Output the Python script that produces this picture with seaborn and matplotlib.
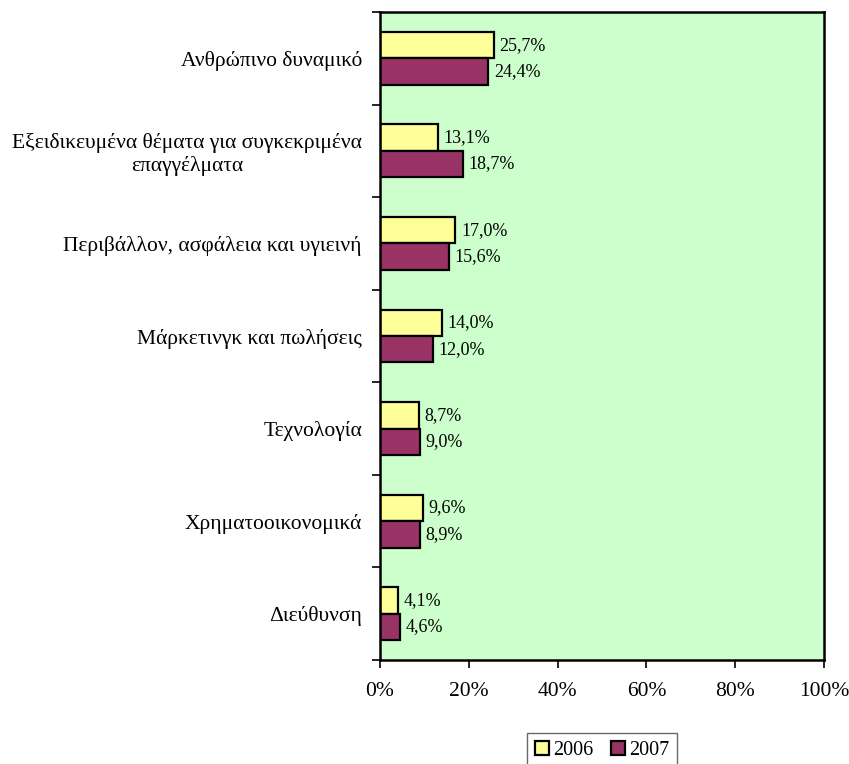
import numpy as np
import pandas as pd
import matplotlib
matplotlib.use("Agg")
import matplotlib.pyplot as plt
import seaborn as sns
from matplotlib.ticker import FixedLocator, PercentFormatter

# =============================================================================
# DATA
# =============================================================================

categories = [
    "Ανθρώπινο δυναμικό",
    "Εξειδικευμένα θέματα για συγκεκριμένα\nεπαγγέλματα",
    "Περιβάλλον, ασφάλεια και υγιεινή",
    "Μάρκετινγκ και πωλήσεις",
    "Τεχνολογία",
    "Χρηματοοικονομικά",
    "Διεύθυνση",
]

values_2006 = [25.7, 13.1, 17.0, 14.0, 8.7, 9.6, 4.1]
values_2007 = [24.4, 18.7, 15.6, 12.0, 9.0, 8.9, 4.6]

years = ["2006", "2007"]
x_ticks = [0, 20, 40, 60, 80, 100]

# =============================================================================
# STYLE
# =============================================================================

sns.set_style("white", rc={
    "text.color": "black",
    "xtick.color": "black",
    "ytick.color": "black",
    "axes.labelcolor": "black",
})
plt.rcParams["font.family"] = ["Liberation Serif", "DejaVu Serif"]
TICK_FS = 15.5
LABEL_FS = 13
COLORS = ["#FFFF99", "#993366"]

df = pd.DataFrame({
    "category": categories * 2,
    "value": values_2006 + values_2007,
    "year": [years[0]] * len(categories) + [years[1]] * len(categories),
})

fig = plt.figure(figsize=(8.49, 7.64), dpi=100)
ax = fig.add_axes([380 / 849, 1 - 660 / 764, 444 / 849, 648 / 764])
ax.set_facecolor("#CCFFCC")

sns.barplot(
    data=df,
    y="category",
    x="value",
    hue="year",
    order=categories,
    hue_order=years,
    palette=COLORS,
    saturation=1,
    orient="h",
    width=0.57,
    edgecolor="black",
    linewidth=1.6,
    ax=ax,
)

# data labels
for container in ax.containers:
    labels = [f"{v:.1f}%".replace(".", ",") for v in container.datavalues]
    ax.bar_label(container, labels=labels, padding=4, fontsize=LABEL_FS,
                 color="black")

ax.set_xlim(0, 100)
ax.set_ylim(len(categories) - 0.5, -0.5)
ax.xaxis.set_major_locator(FixedLocator(x_ticks))
ax.xaxis.set_major_formatter(PercentFormatter(decimals=0))

ax.yaxis.set_minor_locator(FixedLocator(np.arange(-0.5, len(categories), 1.0)))
ax.tick_params(axis="y", which="major", length=0, pad=13, labelsize=TICK_FS)
ax.tick_params(axis="y", which="minor", length=6, width=1.2, direction="out", left=True)
ax.tick_params(axis="x", which="major", length=6, width=1.2, direction="out",
               bottom=True, pad=10, labelsize=TICK_FS)
for lbl in ax.get_yticklabels():
    lbl.set_multialignment("center")

ax.set_xlabel("")
ax.set_ylabel("")

for s in ax.spines.values():
    s.set_visible(True)
    s.set_color("black")
    s.set_linewidth(1.8)

ax.get_legend().remove()
handles = [
    plt.Rectangle((0, 0), 1, 1, facecolor=c, edgecolor="black", linewidth=1.6)
    for c in COLORS
]
leg = fig.legend(
    handles, years,
    loc="upper center",
    bbox_to_anchor=(602 / 849, 1 - 733 / 764),
    borderaxespad=0,
    ncol=2,
    fontsize=14.5,
    handlelength=0.7,
    handleheight=0.7,
    handletextpad=0.2,
    columnspacing=0.9,
    borderpad=0.4,
    fancybox=False,
    frameon=True,
)
leg.get_frame().set_edgecolor("#444444")
leg.get_frame().set_linewidth(1.0)

fig.savefig("out.png", dpi=100)
